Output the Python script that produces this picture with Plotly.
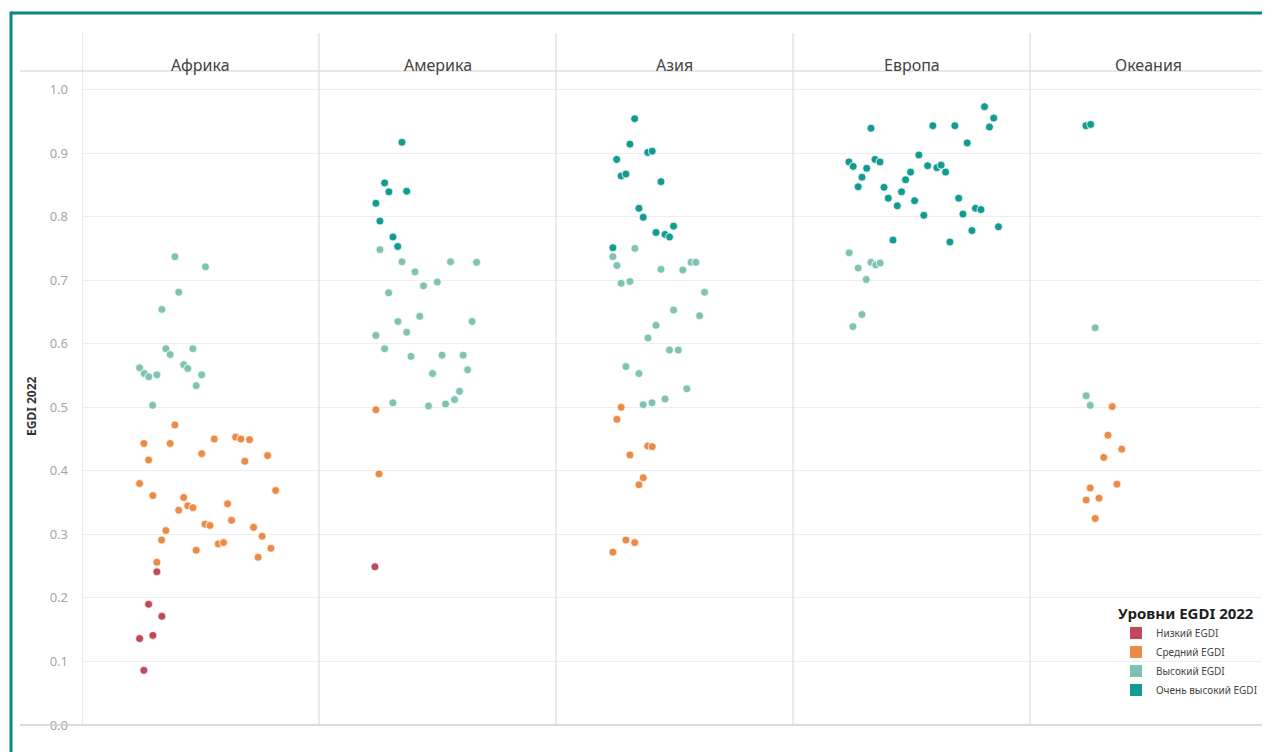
import plotly.graph_objects as go

# ---------------- data ----------------
regions = ["Африка", "Америка", "Азия", "Европа", "Океания"]
level_names = ["Низкий EGDI", "Средний EGDI", "Высокий EGDI", "Очень высокий EGDI"]
level_colors = ["#c0485a", "#ec8b46", "#80c3b5", "#129b90"]
y_ticks = [0.0, 0.1, 0.2, 0.3, 0.4, 0.5, 0.6, 0.7, 0.8, 0.9, 1.0]

# values per region (order of `regions`); jitter = horizontal position inside a region column (0..1)
low_egdi = [
    [0.241, 0.190, 0.171, 0.136, 0.141, 0.086],
    [0.249], [], [], [],
]
low_jitter = [
    [0.316, 0.281, 0.337, 0.243, 0.299, 0.261],
    [0.236], [], [], [],
]

mid_egdi = [
    [0.472, 0.443, 0.443, 0.450, 0.453, 0.450, 0.449, 0.427, 0.417, 0.415, 0.424, 0.380,
     0.369, 0.361, 0.358, 0.338, 0.345, 0.342, 0.348, 0.322, 0.316, 0.314, 0.311, 0.297,
     0.278, 0.264, 0.306, 0.291, 0.275, 0.285, 0.287, 0.256],
    [0.496, 0.395],
    [0.500, 0.481, 0.439, 0.438, 0.425, 0.389, 0.378, 0.291, 0.287, 0.272],
    [],
    [0.501, 0.456, 0.434, 0.421, 0.379, 0.373, 0.354, 0.357, 0.325],
]
mid_jitter = [
    [0.392, 0.261, 0.372, 0.558, 0.648, 0.670, 0.707, 0.505, 0.281, 0.687, 0.783, 0.243,
     0.817, 0.299, 0.429, 0.408, 0.446, 0.468, 0.614, 0.631, 0.519, 0.540, 0.724, 0.760,
     0.797, 0.743, 0.354, 0.336, 0.482, 0.575, 0.597, 0.316],
    [0.240, 0.253],
    [0.275, 0.257, 0.387, 0.406, 0.312, 0.368, 0.350, 0.295, 0.332, 0.240],
    [],
    [0.347, 0.329, 0.387, 0.311, 0.367, 0.254, 0.237, 0.291, 0.275],
]

high_egdi = [
    [0.737, 0.721, 0.681, 0.654, 0.592, 0.583, 0.592, 0.562, 0.553, 0.548, 0.551, 0.567,
     0.561, 0.551, 0.534, 0.503],
    [0.748, 0.729, 0.729, 0.728, 0.713, 0.691, 0.697, 0.680, 0.643, 0.635, 0.635, 0.618,
     0.613, 0.592, 0.580, 0.582, 0.582, 0.559, 0.553, 0.525, 0.512, 0.505, 0.502, 0.507],
    [0.750, 0.737, 0.723, 0.717, 0.716, 0.728, 0.728, 0.695, 0.698, 0.681, 0.653, 0.644,
     0.629, 0.609, 0.590, 0.590, 0.564, 0.553, 0.529, 0.513, 0.504, 0.507],
    [0.743, 0.719, 0.728, 0.724, 0.727, 0.701, 0.646, 0.627],
    [0.625, 0.518, 0.503],
]
high_jitter = [
    [0.392, 0.521, 0.408, 0.337, 0.354, 0.372, 0.468, 0.243, 0.263, 0.282, 0.316, 0.429,
     0.446, 0.505, 0.482, 0.298],
    [0.257, 0.350, 0.555, 0.665, 0.405, 0.441, 0.499, 0.294, 0.425, 0.333, 0.646, 0.370,
     0.240, 0.277, 0.388, 0.519, 0.608, 0.627, 0.479, 0.593, 0.572, 0.534, 0.462, 0.312],
    [0.333, 0.240, 0.257, 0.443, 0.535, 0.570, 0.590, 0.275, 0.312, 0.627, 0.496, 0.606,
     0.422, 0.388, 0.479, 0.516, 0.295, 0.350, 0.552, 0.460, 0.368, 0.405],
    [0.237, 0.275, 0.329, 0.349, 0.368, 0.309, 0.291, 0.253],
    [0.275, 0.237, 0.254],
]

vhigh_egdi = [
    [],
    [0.917, 0.853, 0.839, 0.840, 0.821, 0.793, 0.768, 0.753],
    [0.954, 0.914, 0.901, 0.903, 0.890, 0.864, 0.867, 0.855, 0.813, 0.799, 0.785, 0.775,
     0.772, 0.768, 0.751],
    [0.973, 0.955, 0.941, 0.939, 0.943, 0.943, 0.916, 0.897, 0.886, 0.879, 0.890, 0.886,
     0.876, 0.880, 0.877, 0.881, 0.870, 0.870, 0.862, 0.858, 0.847, 0.846, 0.839, 0.829,
     0.825, 0.817, 0.829, 0.804, 0.813, 0.811, 0.802, 0.784, 0.778, 0.763, 0.760],
    [0.943, 0.945],
]
vhigh_jitter = [
    [],
    [0.350, 0.277, 0.295, 0.370, 0.240, 0.257, 0.312, 0.332],
    [0.332, 0.312, 0.387, 0.406, 0.256, 0.275, 0.295, 0.443, 0.350, 0.368, 0.496, 0.422,
     0.460, 0.479, 0.240],
    [0.808, 0.847, 0.829, 0.329, 0.590, 0.683, 0.735, 0.531, 0.236, 0.254, 0.346, 0.367,
     0.311, 0.568, 0.607, 0.625, 0.644, 0.496, 0.291, 0.475, 0.275, 0.384, 0.458, 0.402,
     0.513, 0.440, 0.699, 0.717, 0.770, 0.793, 0.552, 0.867, 0.755, 0.422, 0.662],
    [0.236, 0.256],
]

level_values = [low_egdi, mid_egdi, high_egdi, vhigh_egdi]
level_jitters = [low_jitter, mid_jitter, high_jitter, vhigh_jitter]

FONT = "Noto Sans"

fig = go.Figure()

for name, color, vals, jits in zip(level_names, level_colors, level_values, level_jitters):
    xs, ys, cs = [], [], []
    for ri, region in enumerate(regions):
        for j, v in zip(jits[ri], vals[ri]):
            xs.append(ri + j)
            ys.append(v)
            cs.append(region)
    fig.add_trace(go.Scatter(
        x=xs, y=ys, mode="markers", name=name, showlegend=False,
        customdata=cs,
        hovertemplate="%{customdata}<br>EGDI 2022: %{y:.3f}<extra>" + name + "</extra>",
        marker=dict(size=8, color=color, line=dict(color="white", width=0.8)),
    ))

# legend entries with square swatches
for name, color in zip(level_names, level_colors):
    fig.add_trace(go.Scatter(
        x=[None], y=[None], mode="markers", name=name, showlegend=True,
        marker=dict(symbol="square", size=9, color=color),
    ))

# geometry: the page body adds an 8px offset, so figure coords = screen coords - 8
OFF = 8
W, H = 1270 - OFF, 752 - OFF
L, T = 82 - OFF, 71 - OFF
R = W - (1267 - OFF)
B = H - (725 - OFF)
pw, ph = W - L - R, H - T - B


def px_x(p):
    return (p - OFF - L) / pw


def px_y(p):
    return (H - B - (p - OFF)) / ph


shapes = []
# vertical column separators (extend into header)
for i in range(len(regions) + 1):
    shapes.append(dict(type="line", xref="x", yref="paper", x0=i, x1=i,
                       y0=0, y1=px_y(33), line=dict(color="#d6d6d6", width=1)))
# header underline and bottom axis line
shapes.append(dict(type="line", xref="paper", yref="paper", x0=px_x(20), x1=1,
                   y0=1, y1=1, line=dict(color="#cfcfcf", width=1)))
shapes.append(dict(type="line", xref="paper", yref="paper", x0=px_x(20), x1=1,
                   y0=0, y1=0, line=dict(color="#d0d0d0", width=1.5)))
# teal frame (top and left)
shapes.append(dict(type="line", xref="paper", yref="paper", x0=px_x(11), x1=px_x(1275),
                   y0=px_y(13), y1=px_y(13), line=dict(color="#0b8a80", width=3)))
shapes.append(dict(type="line", xref="paper", yref="paper", x0=px_x(11), x1=px_x(11),
                   y0=px_y(11.5), y1=px_y(760), line=dict(color="#0b8a80", width=3)))

annotations = []
for i, region in enumerate(regions):
    annotations.append(dict(x=i + 0.5, xref="x", y=px_y(65), yref="paper",
                            text=region, showarrow=False, xanchor="center", yanchor="middle",
                            font=dict(family=FONT, size=16, color="#444444")))
annotations.append(dict(x=px_x(31), xref="paper", y=px_y(406), yref="paper",
                        text="<b>EGDI 2022</b>", showarrow=False, textangle=-90,
                        xanchor="center", yanchor="middle",
                        font=dict(family=FONT, size=12, color="#333333")))

fig.update_layout(
    width=W, height=H,
    margin=dict(l=L, r=R, t=T, b=B, pad=0),
    paper_bgcolor="white", plot_bgcolor="white",
    font=dict(family=FONT),
    shapes=shapes, annotations=annotations,
    xaxis=dict(range=[0, 5], showgrid=False, zeroline=False, showticklabels=False,
               showline=False, fixedrange=True),
    yaxis=dict(range=[0, ph / 635.5], tickvals=y_ticks, tickformat=".1f",
               showgrid=True, gridcolor="#eeeeee", gridwidth=1, zeroline=False,
               showline=False, ticks="", ticklabelstandoff=13,
               tickfont=dict(family=FONT, size=13, color="#a6a6a6")),
    legend=dict(x=px_x(1116), y=px_y(599), xanchor="left", yanchor="top",
                bgcolor="rgba(0,0,0,0)", borderwidth=0,
                title=dict(text="<b>Уровни EGDI 2022</b>", side="top",
                           font=dict(family=FONT, size=15, color="#1e1e1e")),
                font=dict(family=FONT, size=10, color="#444444"),
                itemsizing="constant", tracegroupgap=0),
    hovermode="closest",
)

fig.write_html("out.html")
